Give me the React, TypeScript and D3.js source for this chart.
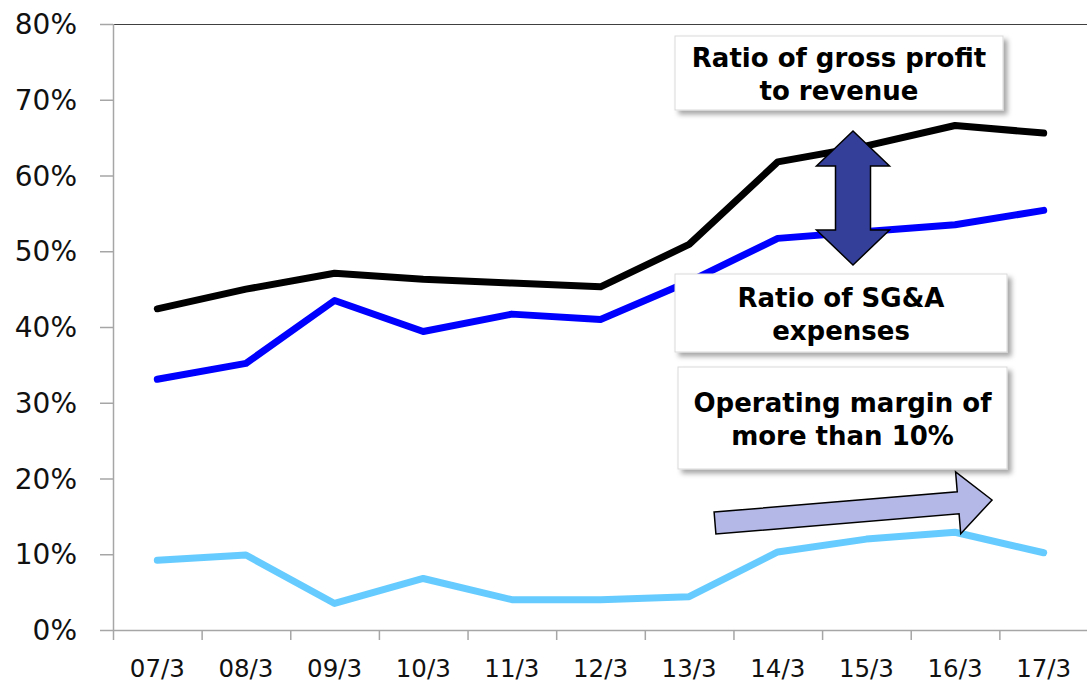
import React from 'react';
import * as d3 from 'd3';

// fiscal years (March year-end)
const periods = ['07/3', '08/3', '09/3', '10/3', '11/3', '12/3', '13/3', '14/3', '15/3', '16/3', '17/3'];
const grossProfitRatio = [42.4, 45.0, 47.1, 46.3, 45.8, 45.3, 50.9, 61.8, 63.9, 66.6, 65.6];
const sgaRatio = [33.1, 35.2, 43.5, 39.4, 41.7, 41.0, 46.0, 51.7, 52.6, 53.5, 55.4];
const operatingMargin = [9.2, 9.9, 3.5, 6.8, 4.0, 4.0, 4.4, 10.3, 12.0, 12.9, 10.2];
const yTicks = [0, 10, 20, 30, 40, 50, 60, 70, 80];

const series = [
  { name: 'gross', values: grossProfitRatio, color: '#000000' },
  { name: 'sga', values: sgaRatio, color: '#0000ff' },
  { name: 'op', values: operatingMargin, color: '#66ccff' },
];

const W = 1087;
const H = 684;
const left = 113;
const right = 1088;
const top = 24;
const bottom = 630;

const font = '"DejaVu Sans", Verdana, sans-serif';

export default function App() {
  const x = d3.scaleBand().domain(periods).range([left, right]);
  const y = d3.scaleLinear().domain([0, 80]).range([bottom, top]);
  const cx = (p: string) => (x(p) as number) + x.bandwidth() / 2;

  const line = d3
    .line<number>()
    .x((_, i) => cx(periods[i]))
    .y((d) => y(d));

  // category boundaries for x ticks
  const bounds = periods.map((p) => x(p) as number).concat([right]);

  // annotation boxes
  const boxes = [
    { x0: 675, y0: 36, x1: 1003, y1: 110, lines: ['Ratio of gross profit', 'to revenue'], base: [67, 100] },
    { x0: 675, y0: 274, x1: 1007, y1: 352, lines: ['Ratio of SG&A', 'expenses'], base: [307, 340] },
    { x0: 678, y0: 367, x1: 1007, y1: 469, lines: ['Operating margin of', 'more than 10%'], base: [412, 445] },
  ];

  // double arrow between gross profit and SG&A lines
  const ax = 853;
  const dbl = [
    [ax, 131], [ax + 36.5, 166], [ax + 17.5, 166], [ax + 17.5, 230], [ax + 36.5, 230],
    [ax, 265], [ax - 36.5, 230], [ax - 17.5, 230], [ax - 17.5, 166], [ax - 36.5, 166],
  ];

  // right arrow (local coordinates, rotated)
  const L = 278, head = 34, sh = 11, hh = 31;
  const rArrow = [
    [0, -sh], [L - head, -sh], [L - head, -hh], [L, 0], [L - head, hh], [L - head, sh], [0, sh],
  ];

  return (
    <svg width={W} height={H} style={{ position: 'absolute', left: 0, top: 0, background: '#fff' }}>
      <defs>
        <filter id="shadow" x="-10%" y="-10%" width="130%" height="140%">
          <feDropShadow dx="4" dy="4" stdDeviation="2.5" floodColor="#000" floodOpacity="0.35" />
        </filter>
      </defs>

      {/* frame */}
      <line x1={left} x2={W} y1={top + 0.5} y2={top + 0.5} stroke="#404040" strokeWidth={1} />
      <line x1={left + 0.5} x2={left + 0.5} y1={top} y2={bottom} stroke="#a6a6a6" strokeWidth={1.5} />
      <line x1={left} x2={W} y1={bottom + 0.5} y2={bottom + 0.5} stroke="#a6a6a6" strokeWidth={1.5} />

      {/* y ticks and labels */}
      {yTicks.map((t) => (
        <g key={t}>
          <line x1={100} x2={left} y1={y(t) + 0.5} y2={y(t) + 0.5} stroke="#a6a6a6" strokeWidth={1.5} />
          <text x={77} y={y(t)} dy="0.36em" textAnchor="end" fontFamily={font} fontSize={28} fill="#111">
            {t}%
          </text>
        </g>
      ))}

      {/* x ticks and labels */}
      {bounds.map((b, i) => (
        <line key={i} x1={b + 0.5} x2={b + 0.5} y1={bottom} y2={bottom + 10} stroke="#a6a6a6" strokeWidth={1.5} />
      ))}
      {periods.map((p) => (
        <text key={p} x={cx(p)} y={677} textAnchor="middle" fontFamily={font} fontSize={24.5} fill="#111">
          {p}
        </text>
      ))}

      {/* series */}
      {series.map((s) => (
        <path
          key={s.name}
          d={line(s.values) as string}
          fill="none"
          stroke={s.color}
          strokeWidth={7}
          strokeLinejoin="round"
          strokeLinecap="round"
        />
      ))}

      {/* double arrow */}
      <polygon points={dbl.map((p) => p.join(',')).join(' ')} fill="#333f99" stroke="#000" strokeWidth={1.5} />

      {/* annotation boxes */}
      {boxes.map((b, i) => (
        <g key={i}>
          <rect
            x={b.x0}
            y={b.y0}
            width={b.x1 - b.x0}
            height={b.y1 - b.y0}
            fill="#fff"
            stroke="#d9d9d9"
            strokeWidth={1}
            filter="url(#shadow)"
          />
          {b.lines.map((t, j) => (
            <text
              key={j}
              x={(b.x0 + b.x1) / 2}
              y={b.base[j]}
              textAnchor="middle"
              fontFamily={font}
              fontWeight="bold"
              fontSize={26}
              fill="#000"
            >
              {t}
            </text>
          ))}
        </g>
      ))}

      {/* operating margin arrow */}
      <g transform="translate(715,523) rotate(-4.75)">
        <polygon points={rArrow.map((p) => p.join(',')).join(' ')} fill="#b4b8e6" stroke="#000" strokeWidth={1.5} />
      </g>
    </svg>
  );
}
